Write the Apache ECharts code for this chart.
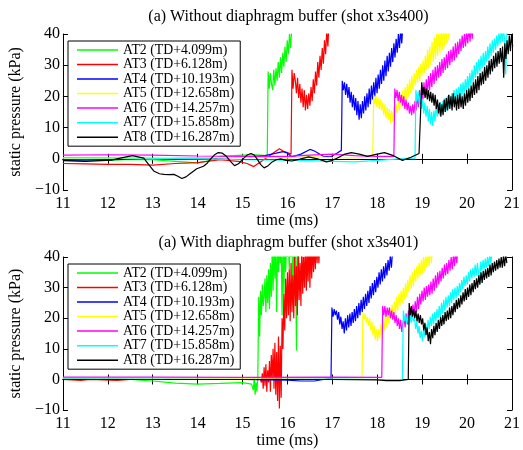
<!DOCTYPE html>
<html><head><meta charset="utf-8">
<script src="https://cdn.jsdelivr.net/npm/echarts@6/dist/echarts.min.js"></script>
<style>html,body{margin:0;padding:0;background:#fff}#c{width:523px;height:450px}</style>
</head><body><div id="c"></div>
<script>
// ---- data ----
const seriesNames = ['AT2 (TD+4.099m)','AT3 (TD+6.128m)','AT4 (TD+10.193m)','AT5 (TD+12.658m)','AT6 (TD+14.257m)','AT7 (TD+15.858m)','AT8 (TD+16.287m)'];
const titles = ['(a) Without diaphragm buffer (shot x3s400)','(a) With diaphragm buffer (shot x3s401)'];
const xTickLabels = ['11','12','13','14','15','16','17','18','19','20','21'];
const yTickLabels = ['\u221210','0','10','20','30','40'];

// Plot 1 (x3s400): baseline [time, kPa] pairs, then the noisy trace after the shock (start time, sample step, values)
const p1_AT2_base = [[11,-0.5],[11.5,-0.3],[12,-0.5],[12.5,-0.2],[13,-0.3],[13.5,-0.8],[14,-1.3],[14.3,-0.5],[14.5,0.8],[15,1.2],[15.3,1.3],[15.55,1.0]];
const p1_AT2_t0 = 15.57, p1_AT2_dt = 0.025;
const p1_AT2_vals = [28,22.5,27.5,24,22,28.5,23.5,29,25,31,26,32.5,27.5,34,29.5,36,31,38,33.5,40,35.5,42,44];

const p1_AT3_base = [[11,-1.5],[11.5,-1.6],[12,-1.8],[12.5,-1.8],[13,-2],[13.5,-1.5],[14,-1.2],[14.5,-0.3],[14.9,-0.8],[15.1,-1.5],[15.25,-2.5],[15.4,-1],[15.55,0.5],[15.7,2],[15.82,3.2],[15.9,2.5],[16,2],[16.08,1.5]];
const p1_AT3_t0 = 16.10, p1_AT3_dt = 0.025;
const p1_AT3_vals = [28.5,22.5,27.5,25,21,26,19.5,24,18,22.5,16.5,22,15.5,20.5,16,21,17,23,18.5,25.5,21,28,23.5,31,26,33,28.5,35.5,30.5,38,33.5,41,36,44];

const p1_AT4_base = [[11,-0.5],[12,-0.3],[13,0],[14,0.2],[14.5,0.3],[15,0.5],[15.5,1],[15.75,1.8],[15.9,2.3],[16,1.8],[16.1,0.6],[16.3,1.5],[16.5,3],[16.6,2.5],[16.8,0.8],[16.95,0.6],[17.1,1.8],[17.2,2.7]];
const p1_AT4_t0 = 17.22, p1_AT4_dt = 0.025;
const p1_AT4_vals = [25,22,24.5,20.5,24,19.5,23,18,21.5,16.5,20.5,15.5,19.5,14,18.5,12.5,17.5,13,18.5,14.5,20,15.5,21,16.5,22.5,17.5,23.5,19,24.5,20,26,21,27,22.5,28.5,24,30,25,31.5,26.5,33,28,34,29.5,35.5,31,37,32.5,38.5,34,40,35.5,41.5,37,43,45];

const p1_AT5_base = [[11,0.3],[12,0.2],[13,0],[14,0.3],[15,0.5],[16,0.3],[16.5,0.6],[17,0.4],[17.5,0.3],[17.9,0.5]];
const p1_AT5_t0 = 17.92, p1_AT5_dt = 0.025;
const p1_AT5_vals = [20.5,17.5,20,16.5,19.5,16,19,15.5,18,14,17.5,13,16.5,12.5,16,11.5,15.5,12,16.5,13.5,17.5,14.5,19,15.5,20.5,16.5,22,17.5,23,19,24,20,25.5,21,26.5,22,27.5,23.5,28.5,24.5,29.5,25,30.5,26.5,31.5,27.5,33,28.5,35,29,36,30,37.5,31,39,32,40,33,41,34,42,35,43,36,43.5,37,44,38,45,46];

const p1_AT6_base = [[11,1.2],[12,1.3],[13,1.2],[14,0.9],[15,0.8],[16,0.8],[16.5,1.2],[17,1.5],[17.5,1.0],[18,0.8],[18.37,0.8]];
const p1_AT6_t0 = 18.39, p1_AT6_dt = 0.025;
const p1_AT6_vals = [22.5,19.5,22,18.5,21.5,18,20.5,17,20,16,19,15.5,18,14.5,17,14,17.5,14.5,18.5,15.5,20.5,16.5,22,17.5,23.5,19,24.5,20,25.5,21,26.5,22,27.5,23,28.5,24,29.5,25,30,26,31,26.5,32,27.5,32.5,28.5,33.5,29,34.5,30,35,31,36,31.5,37,32.5,37.5,33.5,38.5,34.5,39.5,35.5,40,36,41,37,42,37.5,42.5,38.5,43,44];

const p1_AT7_base = [[11,0.4],[12,0.3],[13,0.2],[14,0],[15,-0.3],[16,-0.4],[16.5,-0.6],[17,-0.8],[17.5,-1],[18,-0.5],[18.5,0],[18.84,0.2]];
const p1_AT7_t0 = 18.86, p1_AT7_dt = 0.025;
const p1_AT7_vals = [22,18.5,21.5,17.5,20.5,16,19,14.5,18,13.5,17,12,16,11,15,10.5,15.5,12,17,13.5,17.5,14,18,14.5,18.5,15,19.5,15.5,20,16.5,20.5,17,21,17.5,22,18,22.5,19,23,19.5,24,20,24.5,21,25.5,22,26.5,22.5,27.5,23.5,28.5,24.5,30,26,31,27,32,28,33,29,34,30,34.5,31,36,32,37,33,38,34,38.5,35,39.5,36,40.5,37,41.5,37.5,42,38,27,40,43,44];

const p1_AT8_base = [[11,-0.6],[11.5,-0.8],[12.08,-0.4],[12.3,0.3],[12.55,1.0],[12.8,0.2],[12.92,-2],[13.03,-4],[13.15,-4.8],[13.25,-5],[13.36,-5.1],[13.47,-5],[13.56,-5.6],[13.65,-6.3],[13.74,-5.8],[13.83,-4.8],[13.98,-3.2],[14.13,-2.4],[14.2,-1.6],[14.28,-0.2],[14.37,1.2],[14.46,2],[14.55,1.8],[14.64,0.8],[14.73,-0.8],[14.82,-2.2],[14.91,-1.6],[15.0,-0.2],[15.1,1.2],[15.19,1.7],[15.26,1.2],[15.33,-0.2],[15.4,-1.8],[15.48,-2.9],[15.57,-2.2],[15.66,-1],[15.75,-0.3],[15.85,0],[15.97,-0.5],[16.1,-0.7],[16.28,-0.1],[16.47,0.6],[16.67,0],[16.87,-1],[16.98,-0.6],[17.1,0.2],[17.26,1.4],[17.42,2],[17.6,1.5],[17.78,0.8],[17.97,1.4],[18.16,2],[18.36,1],[18.56,-0.5],[18.75,0.5],[18.93,1.7],[18.97,1.8]];
const p1_AT8_t0 = 18.99, p1_AT8_dt = 0.025;
const p1_AT8_vals = [24.5,20.5,23,19.5,22.5,19,22,18.5,21.5,18,21,17,20.5,16,19,14.5,18,13.5,17.5,14,19,15,19.5,15.5,20.5,16,20,15.5,21,16.5,20,15.5,20.5,16,21,16.5,20,16,21,17,22,18,22.5,18.5,23.5,19.5,24.5,20.5,25.5,21,26.5,22,27.5,23.5,28,24,29.5,25,30,26,31.5,27,32,28,33,29,34,29.5,34.5,30.5,35.5,31,36,26,37,32,38,33.5,39.5,34.5,40,36];

// Plot 2 (x3s401)
const p2_AT2_base = [[11,0.2],[12,0.1],[12.5,0],[13,-0.5],[13.5,-1.2],[14,-1.5],[14.5,-1.3],[15,-1],[15.2,-1.5]];
const p2_AT2_t0 = 15.22, p2_AT2_dt = 0.02;
const p2_AT2_vals = [-1,-3.5,0.5,-5,-1,-4,1,27,14,29,21,31,24,27,33,22,34,25,36,23,38,27,42,29,45,33,45,22,45,35,45,38,45,21,45,28,45,35,45,40,45,36,45,40,45,25,45,40,45,9.5,45,30,45,45,45];

const p2_AT3_base = [[11,0],[11.4,-0.3],[11.6,0],[12.2,-0.3],[12.5,0],[13,0],[14,0],[15,0],[15.4,0]];
const p2_AT3_t0 = 15.42, p2_AT3_dt = 0.02;
const p2_AT3_vals = [-1,2,-3,4,-2,5,-4,3,-1,6,-4,8,0,10,-3,12,-5,9,-7,14,-9.5,11,-6,20,10,28,16,33,20,35,21,36,19,38,22,34,20,40,24,37,21,42,26,38,24,45,28,40,30,45,29,42,32,45,30,45,33,45,35,45,36,45,38,45,38,45,45];

const p2_AT4_base = [[11,0],[13,0],[15,0],[16,-0.2],[16.3,-0.5],[16.6,-0.5],[16.8,0],[16.97,0.2]];
const p2_AT4_t0 = 16.99, p2_AT4_dt = 0.025;
const p2_AT4_vals = [23.5,20.5,23,21,22.5,19.5,22,18,20.5,16.5,19,15,20,16,21,17,21.5,17.5,22,18.5,23,19,24,20,25,21,26,22,27,23,28,24,29,25,30.5,26.5,31.5,27.5,32.5,28.5,33.5,30,35,31,36,32,37,33,38,34,39,35.5,40.5,36.5,42,44];

const p2_AT5_base = [[11,0.5],[13,0.5],[15,0.4],[17,0.6],[17.66,0.6]];
const p2_AT5_t0 = 17.68, p2_AT5_dt = 0.025;
const p2_AT5_vals = [22,19.5,21.5,18.5,20.5,17.5,20,16,19,14.5,17.5,13,16.5,12.5,16.5,13.5,18,14.5,19.5,16,21,17,22,18.5,23.5,19.5,24.5,20.5,25.5,21.5,27,22.5,28,24,29,25,30,26,31.5,27,32.5,28.5,34,29.5,35,30.5,36,32,37,33,38,34,39,34.5,40,35.5,41,36.5,42,37,43,38,44,46];

const p2_AT6_base = [[11,0.8],[13,0.8],[15,0.7],[17,0.8],[18.1,0.7]];
const p2_AT6_t0 = 18.12, p2_AT6_dt = 0.025;
const p2_AT6_vals = [24,21,24,20.5,23.5,21,23.5,20,22.5,19.5,22,18.5,21,17.5,20,16.5,19.5,15.5,18.5,20,17,21.5,18,22.5,19,23.5,20,24.5,21,25.5,22,27,23,28,24.5,29,25.5,30,26,30.5,27,31,27.5,32,28,33,29,34,30,35,31,35.5,32,36.5,33,37.5,34,38,34.5,39,35.5,40,36,41,37,42,38,43,45];

const p2_AT7_base = [[11,0.2],[13,0.1],[15,0],[17,0.1],[18,0],[18.56,0]];
const p2_AT7_t0 = 18.58, p2_AT7_dt = 0.025;
const p2_AT7_vals = [22.5,19,21.5,18.5,21,18,21.5,18.5,21.5,19,20,16.5,19,15,17.5,13.5,16,12.5,16.5,14,18,15.5,19.5,16.5,20.5,17.5,21.5,18,22,19,23,20,24,20.5,25,21.5,26,22.5,27,23.5,27.5,24,28.5,25,29.5,26,30,26.5,30.5,27.5,31.5,28.5,32.5,29.5,33.5,30.5,34,31,35,32,36,33,36.5,33.5,37.5,34,38,35,31,38.5,35.5,39,36,39.5,36.5,40,37,41,38,42,44];

const p2_AT8_base = [[11,0],[13,0],[15,0],[17,0],[18,-0.1],[18.2,-0.4],[18.5,-0.4],[18.69,0]];
const p2_AT8_t0 = 18.71, p2_AT8_dt = 0.025;
const p2_AT8_vals = [25,21,24,20.5,23,20,22.5,19,21.5,18.5,21,18,20,16,18.5,14.5,17,12.5,15.5,11.5,16.5,13.5,17.5,14.5,18.5,15.5,19.5,16.5,20.5,17.5,21,18,22,19,22.5,19.5,23.5,20,24,21,25,22,26,23,26.5,23.5,27.5,24.5,28.5,25.5,29.5,26,30,27,31,27.5,31.5,28.5,32.5,29.5,33,30,34,31,35,31.5,35.5,32.5,36,33,36.5,33.5,37.5,34,38,35,38.5,35.5,39,36,39.5,36.5,40,36.5,40.5,37,41,38];

// ---- styles ----
const lineColors = ['#00ff00','#ff0000','#0000ff','#ffff00','#ff00ff','#00ffff','#000000'];
const FONT = 'Liberation Serif';

function build(base, t0, dt, vals) {
  return base.concat(vals.map((v, i) => [+(t0 + i * dt).toFixed(3), v]));
}
const plot1 = [
  build(p1_AT2_base, p1_AT2_t0, p1_AT2_dt, p1_AT2_vals),
  build(p1_AT3_base, p1_AT3_t0, p1_AT3_dt, p1_AT3_vals),
  build(p1_AT4_base, p1_AT4_t0, p1_AT4_dt, p1_AT4_vals),
  build(p1_AT5_base, p1_AT5_t0, p1_AT5_dt, p1_AT5_vals),
  build(p1_AT6_base, p1_AT6_t0, p1_AT6_dt, p1_AT6_vals),
  build(p1_AT7_base, p1_AT7_t0, p1_AT7_dt, p1_AT7_vals),
  build(p1_AT8_base, p1_AT8_t0, p1_AT8_dt, p1_AT8_vals)
];
const plot2 = [
  build(p2_AT2_base, p2_AT2_t0, p2_AT2_dt, p2_AT2_vals),
  build(p2_AT3_base, p2_AT3_t0, p2_AT3_dt, p2_AT3_vals),
  build(p2_AT4_base, p2_AT4_t0, p2_AT4_dt, p2_AT4_vals),
  build(p2_AT5_base, p2_AT5_t0, p2_AT5_dt, p2_AT5_vals),
  build(p2_AT6_base, p2_AT6_t0, p2_AT6_dt, p2_AT6_vals),
  build(p2_AT7_base, p2_AT7_t0, p2_AT7_dt, p2_AT7_vals),
  build(p2_AT8_base, p2_AT8_t0, p2_AT8_dt, p2_AT8_vals)
];

const gridTops = [34, 257];
const axisLineStyle = {show: true, lineStyle: {color: '#000', width: 1}};
const tickStyle = {show: true, inside: true, length: 5, lineStyle: {color: '#000'}};
const labelStyle = {color: '#000', fontFamily: FONT, fontSize: 16};

const xAxes = [], yAxes = [], series = [], legends = [], titleArr = [];
[0, 1].forEach(g => {
  xAxes.push({
    type: 'value', gridIndex: g, min: 11, max: 21, interval: 1, position: 'bottom',
    name: 'time (ms)', nameLocation: 'middle', nameGap: 22,
    nameTextStyle: {color: '#000', fontFamily: FONT, fontSize: 16},
    axisLine: axisLineStyle, axisTick: tickStyle, splitLine: {show: false},
    axisLabel: Object.assign({margin: 6, formatter: v => xTickLabels[Math.round(v - 11)]}, labelStyle)
  });
  xAxes.push({
    type: 'value', gridIndex: g, min: 11, max: 21, interval: 1, position: 'top',
    axisLine: axisLineStyle, axisTick: tickStyle, splitLine: {show: false}, axisLabel: {show: false}
  });
  yAxes.push({
    type: 'value', gridIndex: g, min: -10, max: 40, interval: 10, position: 'left',
    name: 'static pressure (kPa)', nameLocation: 'middle', nameGap: 36,
    nameTextStyle: {color: '#000', fontFamily: FONT, fontSize: 16},
    axisLine: axisLineStyle, axisTick: tickStyle, splitLine: {show: false},
    axisLabel: Object.assign({margin: 3, formatter: v => yTickLabels[Math.round((v + 10) / 10)]}, labelStyle)
  });
  yAxes.push({
    type: 'value', gridIndex: g, min: -10, max: 40, interval: 10, position: 'right',
    axisLine: axisLineStyle, axisTick: tickStyle, splitLine: {show: false}, axisLabel: {show: false}
  });
  const data = g === 0 ? plot1 : plot2;
  data.forEach((d, i) => {
    series.push({
      name: seriesNames[i], type: 'line', xAxisIndex: g * 2, yAxisIndex: g * 2,
      data: d, symbol: 'none', showSymbol: false, clip: true, animation: false,
      lineStyle: {color: lineColors[i], width: 1.2}, itemStyle: {color: lineColors[i]},
      emphasis: {disabled: true}, z: 2
    });
  });
  legends.push({
    data: seriesNames, orient: 'vertical', left: 68, top: gridTops[g] + 7,
    padding: [2, 6, 2, 9], itemGap: 0.53, itemWidth: 41, itemHeight: 1.5, icon: 'rect',
    backgroundColor: '#fff', borderColor: '#000', borderWidth: 1, borderRadius: 0,
    selectedMode: false,
    textStyle: {color: '#000', fontFamily: FONT, fontSize: 13.8, lineHeight: 13.8}
  });
  titleArr.push({
    text: titles[g], left: 288.5, textAlign: 'center', top: g === 0 ? 9 : 235, padding: 0,
    textStyle: {color: '#000', fontFamily: FONT, fontSize: 16, fontWeight: 'normal'}
  });
});

const chart = echarts.init(document.getElementById('c'), null, {renderer: 'canvas'});
chart.setOption({
  animation: false,
  backgroundColor: '#fff',
  title: titleArr,
  legend: legends,
  grid: [
    {left: 61, right: 7, top: gridTops[0], height: 156, containLabel: false},
    {left: 61, right: 7, top: gridTops[1], height: 156, containLabel: false}
  ],
  xAxis: xAxes,
  yAxis: yAxes,
  series: series
});
</script>
</body></html>
